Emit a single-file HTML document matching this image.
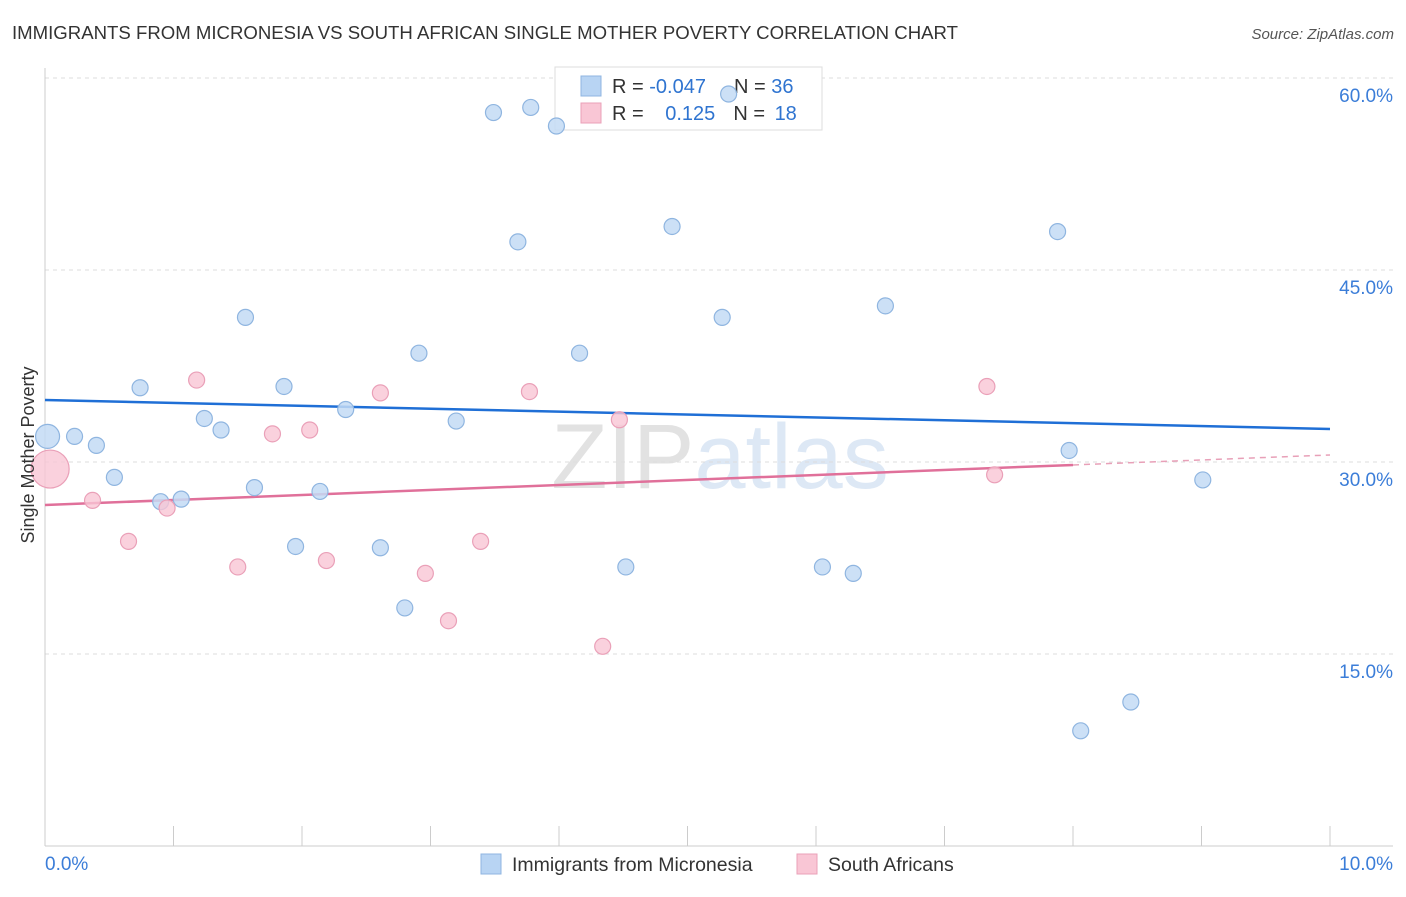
<!DOCTYPE html>
<html><head><meta charset="utf-8"><style>
body{margin:0;background:#fff;font-family:"Liberation Sans",sans-serif}
svg text{font-family:"Liberation Sans",sans-serif}
</style></head><body>
<svg width="1406" height="892" viewBox="0 0 1406 892" xmlns="http://www.w3.org/2000/svg">
<text x="12" y="39" font-size="18.6" fill="#333">IMMIGRANTS FROM MICRONESIA VS SOUTH AFRICAN SINGLE MOTHER POVERTY CORRELATION CHART</text>
<text x="1394" y="39" font-size="15" fill="#555" font-style="italic" text-anchor="end">Source: ZipAtlas.com</text>
<text x="720" y="488" font-size="92" fill="#e6e6e6" text-anchor="middle" font-family="Liberation Serif"><tspan fill="#e2e2e2">ZIP</tspan><tspan fill="#dde8f5" font-family="Liberation Sans">atlas</tspan></text>
<g id="grid"></g>
<g id="axes"></g>
<g>
<rect x="555" y="67" width="267" height="63" fill="#fff" stroke="#ddd"/>
<rect x="581" y="76" width="20" height="20" fill="#b8d4f3" stroke="#8fb5e0"/>
<rect x="581" y="103" width="20" height="20" fill="#f9c6d5" stroke="#eaa0b8"/>
<text x="612" y="93" font-size="20" fill="#333">R = <tspan fill="#2f74d0">-0.047</tspan><tspan dx="28">N = </tspan><tspan fill="#2f74d0">36</tspan></text>
<text x="612" y="120" font-size="20" fill="#333">R = <tspan fill="#2f74d0" dx="16">0.125</tspan><tspan dx="18">N = </tspan><tspan fill="#2f74d0" dx="4">18</tspan></text>
</g>
<g id="trends"></g>
<g id="pts"></g>
<text x="34" y="455" font-size="18" fill="#333" text-anchor="middle" transform="rotate(-90 34 455)">Single Mother Poverty</text>
<g>
<rect x="481" y="854" width="20" height="20" fill="#b8d4f3" stroke="#8fb5e0"/>
<text x="512" y="871" font-size="19.5" fill="#333">Immigrants from Micronesia</text>
<rect x="797" y="854" width="20" height="20" fill="#f9c6d5" stroke="#eaa0b8"/>
<text x="828" y="871" font-size="19.5" fill="#333">South Africans</text>
</g>
</svg>
<script>
const blueX=[0.02,0.23,0.40,0.54,0.74,0.90,1.06,1.24,1.37,1.56,1.63,1.86,1.95,2.14,2.34,2.61,2.80,2.91,3.20,3.49,3.68,3.78,3.98,4.16,4.52,4.88,5.27,5.32,6.05,6.29,6.54,7.88,7.97,8.06,8.45,9.01];
const blueY=[32.0,32.0,31.3,28.8,35.8,26.9,27.1,33.4,32.5,41.3,28.0,35.9,23.4,27.7,34.1,23.3,18.6,38.5,33.2,57.3,47.2,57.7,56.25,38.5,21.8,48.4,41.3,58.75,21.8,21.3,42.2,48.0,30.9,9.0,11.25,28.6];
const pinkX=[0.04,0.37,0.65,0.95,1.18,1.50,1.77,2.06,2.19,2.61,2.96,3.14,3.39,3.77,4.34,4.47,7.33,7.39];
const pinkY=[29.45,27.0,23.8,26.4,36.4,21.8,32.2,32.5,22.3,35.4,21.3,17.6,23.8,35.5,15.6,33.3,35.9,29.0];
const blueTrendX=[0,10], blueTrendY=[34.84,32.58];
const pinkTrendX=[0,8.0,10], pinkTrendY=[26.64,29.77,30.55];
const yTicks=[15,30,45,60], yTickLabels=["15.0%","30.0%","45.0%","60.0%"];
const xTicks=[0,1,2,3,4,5,6,7,8,9,10];
const NS="http://www.w3.org/2000/svg";
const sx=v=>45+v*128.5, sy=v=>846-v*12.8;
function mk(p,t,a){const e=document.createElementNS(NS,t);for(const k in a)e.setAttribute(k,a[k]);document.getElementById(p).appendChild(e);return e;}
yTicks.forEach((t,i)=>{
 const l=mk('grid','line',{x1:45,x2:1393,y1:sy(t),y2:sy(t),stroke:'#ddd','stroke-dasharray':'4 4'});
 
 
 const tx=mk('axes','text',{x:1393,y:sy(t)+24,'font-size':19,fill:'#3b7dd8','text-anchor':'end'});
 tx.textContent=yTickLabels[i];
 
 
});
mk('grid','line',{x1:45,x2:1393,y1:78,y2:78,stroke:'#ddd','stroke-dasharray':'4 4'});
mk('axes','line',{x1:45,x2:45,y1:68,y2:846,stroke:'#ccc'});
mk('axes','line',{x1:45,x2:1393,y1:846,y2:846,stroke:'#ccc'});
xTicks.forEach(t=>{const l=mk('axes','line',{x1:sx(t),x2:sx(t),y1:826,y2:846,stroke:'#ccc'});
 
 });
let a=mk('axes','text',{x:45,y:870,'font-size':19,fill:'#3b7dd8'});a.textContent='0.0%';

a=mk('axes','text',{x:1393,y:870,'font-size':19,fill:'#3b7dd8','text-anchor':'end'});a.textContent='10.0%';

blueX.forEach((x,i)=>{const c=mk('pts','circle',{cx:sx(x),cy:sy(blueY[i]),r:i==0?12:8,fill:'#c3daf5','fill-opacity':0.85,stroke:'#8fb5e0','stroke-width':1.2});
 
 });
pinkX.forEach((x,i)=>{const c=mk('pts','circle',{cx:sx(x),cy:sy(pinkY[i]),r:i==0?19:8,fill:'#f9c6d5','fill-opacity':0.8,stroke:'#eaa0b8','stroke-width':1.2});
 
 });
let t=mk('trends','line',{x1:sx(blueTrendX[0]),y1:sy(blueTrendY[0]),x2:sx(blueTrendX[1]),y2:sy(blueTrendY[1]),stroke:'#1f6fd6','stroke-width':2.5});

t=mk('trends','line',{x1:sx(pinkTrendX[0]),y1:sy(pinkTrendY[0]),x2:sx(pinkTrendX[1]),y2:sy(pinkTrendY[1]),stroke:'#e0709a','stroke-width':2.5});

t=mk('trends','line',{x1:sx(pinkTrendX[1]),y1:sy(pinkTrendY[1]),x2:sx(pinkTrendX[2]),y2:sy(pinkTrendY[2]),stroke:'#e8a0b8','stroke-width':1.5,'stroke-dasharray':'6 5'});

</script>
</body></html>
